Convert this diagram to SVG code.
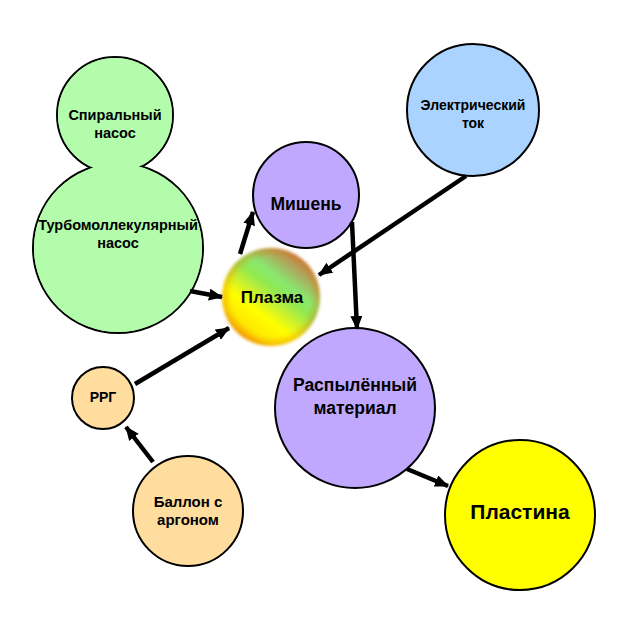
<svg xmlns="http://www.w3.org/2000/svg" width="623" height="623" viewBox="0 0 623 623">
<defs>
<marker id="ah" markerUnits="userSpaceOnUse" markerWidth="14" markerHeight="12" refX="13" refY="6" orient="auto">
<path d="M0,0 L14,6 L0,12 Z" fill="#000"/>
</marker>
<linearGradient id="pg" x1="0.2" y1="0.9" x2="0.8" y2="0.1">
<stop offset="0" stop-color="#ffb000"/>
<stop offset="0.12" stop-color="#ffe800"/>
<stop offset="0.3" stop-color="#ffff00"/>
<stop offset="0.45" stop-color="#c8f030"/>
<stop offset="0.58" stop-color="#90e850"/>
<stop offset="0.7" stop-color="#88e870"/>
<stop offset="0.85" stop-color="#a8b060"/>
<stop offset="1" stop-color="#c08050"/>
</linearGradient>
<radialGradient id="rim" cx="0.5" cy="0.5" r="0.5">
<stop offset="0.8" stop-color="#e08000" stop-opacity="0"/>
<stop offset="1" stop-color="#e07000" stop-opacity="0.4"/>
</radialGradient>
<filter id="blur" x="-20%" y="-20%" width="140%" height="140%"><feGaussianBlur stdDeviation="1.8"/></filter>
</defs>
<style>
.n{stroke:#000;stroke-width:2}
.t{font-family:"Liberation Sans",Arial,sans-serif;font-weight:bold;text-anchor:middle;fill:#000}
.c{stroke:#000;stroke-width:4.5;fill:none;marker-end:url(#ah)}
</style>
<rect width="623" height="623" fill="#fff"/>
<g id="pumps">
<circle cx="115" cy="115" r="58" class="n" fill="#b3fcab"/>
<circle cx="118" cy="248" r="85" class="n" fill="#b3fcab"/>
<circle cx="115" cy="115" r="57" fill="#b3fcab"/>
<circle cx="118" cy="248" r="84" fill="#b3fcab"/>
<text class="t" x="115" y="120" font-size="14.5">Спиральный</text>
<text class="t" x="115" y="138" font-size="14.5">насос</text>
<text class="t" x="118" y="230" font-size="14.5">Турбомоллекулярный</text>
<text class="t" x="118" y="248" font-size="14.5">насос</text>
</g>
<g id="mishen">
<circle cx="306" cy="195" r="53" class="n" fill="#c0a8ff"/>
<text class="t" x="306" y="210" font-size="17.5">Мишень</text>
</g>
<g id="tok">
<circle cx="473" cy="110" r="66" class="n" fill="#aad4ff"/>
<text class="t" x="473" y="110" font-size="14">Электрический</text>
<text class="t" x="473" y="128" font-size="14">ток</text>
</g>
<g id="plasma">
<g filter="url(#blur)">
<circle cx="271" cy="297" r="49" fill="url(#pg)"/>
<circle cx="271" cy="297" r="49" fill="url(#rim)"/>
</g>
<text class="t" x="272" y="303" font-size="17">Плазма</text>
</g>
<g id="rrg">
<circle cx="103" cy="398" r="31" class="n" fill="#fedd9e"/>
<text class="t" x="103" y="402" font-size="14">РРГ</text>
</g>
<g id="ballon">
<circle cx="188" cy="511" r="55" class="n" fill="#fedd9e"/>
<text class="t" x="188" y="507" font-size="15">Баллон с</text>
<text class="t" x="188" y="525" font-size="15">аргоном</text>
</g>
<g id="raspyl">
<circle cx="355" cy="408" r="80" class="n" fill="#c0a8ff"/>
<text class="t" x="355" y="391" font-size="17.5">Распылённый</text>
<text class="t" x="355" y="414" font-size="17.5">материал</text>
</g>
<g id="plastina">
<circle cx="520" cy="515" r="75" class="n" fill="#ffff00"/>
<text class="t" x="520" y="519" font-size="21">Пластина</text>
</g>
<g id="connectors">
<line class="c" x1="190" y1="291" x2="222" y2="297"/>
<line class="c" x1="135" y1="384" x2="229" y2="328"/>
<line class="c" x1="153" y1="462" x2="126" y2="427"/>
<line class="c" x1="240" y1="254" x2="253" y2="212"/>
<line class="c" x1="466" y1="176" x2="319" y2="275"/>
<line class="c" x1="352" y1="222" x2="357" y2="329"/>
<line class="c" x1="407" y1="469" x2="448" y2="486"/>
</g>
</svg>
